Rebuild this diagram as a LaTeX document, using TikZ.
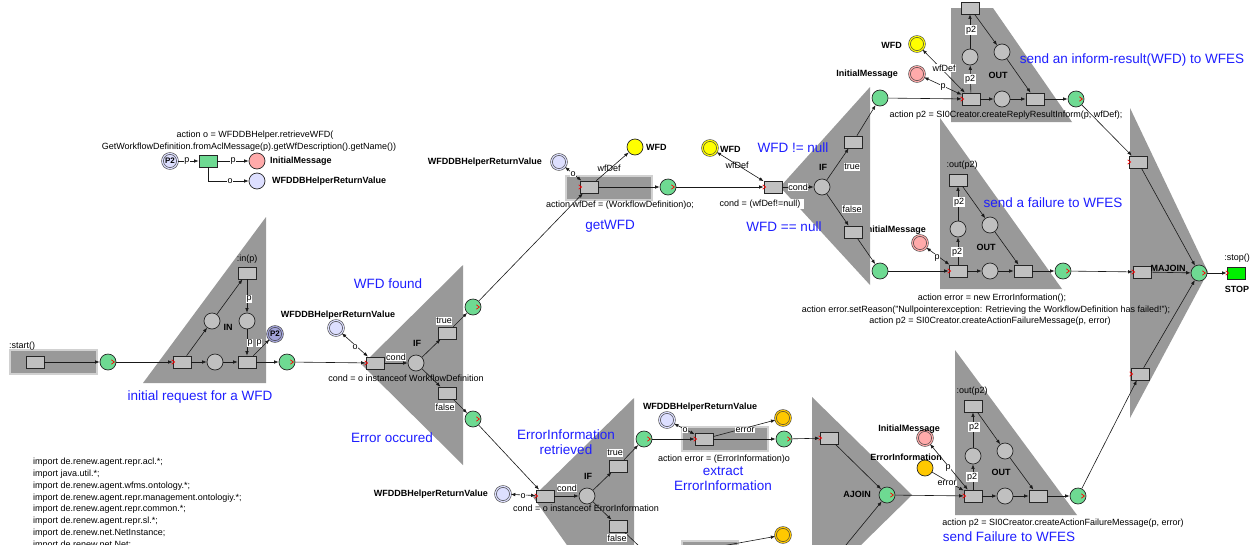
\documentclass[tikz,border=0pt]{standalone}
\usepackage{fontspec}
\setmainfont{Liberation Sans}
\usetikzlibrary{arrows.meta}
\definecolor{bggray}{RGB}{153,153,153}
\definecolor{tgray}{RGB}{192,192,192}
\definecolor{pgreen}{RGB}{110,218,146}
\definecolor{lav}{RGB}{221,223,255}
\definecolor{pinkp}{RGB}{255,170,170}
\definecolor{goldp}{RGB}{255,200,0}
\definecolor{yelp}{RGB}{255,255,0}
\definecolor{lblue}{RGB}{30,30,255}
\definecolor{stopg}{RGB}{0,240,0}
\newcommand\fsm{\fontsize{9}{10.5}\selectfont}
\newcommand\fbd{\fontsize{9}{10.5}\selectfont\bfseries}
\newcommand\fbl{\fontsize{13.5}{16}\selectfont}
\newcommand\rmk[1]{\draw[red,line width=0.7pt] ([shift={(-1,-2.2)}]#1.west) -- ++(3,2.2) -- ++(-3,2.2);}
\newcommand\rmkg[1]{\draw[red,line width=0.7pt] ([shift={(-5,-2.2)}]#1.east) -- ++(3,2.2) -- ++(-3,2.2);}
\begin{document}
\begin{tikzpicture}[x=1pt,y=-1pt,
  bgshape/.style={fill=bggray,draw=none},
  bgbox/.style={fill=bggray,draw=black!18,line width=1.2pt},
  place/.style={circle,draw=black!85,fill=tgray,minimum size=16pt,inner sep=0pt,line width=0.7pt},
  gplace/.style={place,fill=pgreen},
  vplace/.style={circle,draw=black!75,double=#1,double distance=1.2pt,line width=0.6pt,fill=#1,minimum size=15pt,inner sep=0pt},
  trans/.style={rectangle,draw=black!85,fill=tgray,minimum width=18pt,minimum height=12pt,inner sep=0pt,line width=0.7pt},
  parc/.style={draw=black!90,line width=0.6pt,-{Latex[length=4.5pt,width=3.5pt]}},
  barc/.style={draw=black!90,line width=0.6pt,{Latex[length=4.5pt,width=3.5pt]}-{Latex[length=4.5pt,width=3.5pt]}},
  wl/.style={fill=white,inner sep=0.6pt,font=\fsm},
  ntx/.style={font=\fsm,inner sep=0pt},
  bd/.style={font=\fbd,inner sep=0pt},
  bl/.style={font=\fbl,text=lblue,inner sep=0pt,align=center},
]
\useasboundingbox (0,0) rectangle (1255,544);
\clip (0,0) rectangle (1255,544);

% label hidden partly behind IF2 triangle
\node[bd,anchor=east] at (926,230) {InitialMessage};

% ---------- gray backgrounds ----------
\draw[bgbox] (10,350) rectangle (97,374);
\fill[bggray] (143,383) -- (266,217) -- (266,383) -- cycle;
\fill[bggray] (362,365) -- (463,265) -- (463,465) -- cycle;
\draw[bgbox] (566,176) rectangle (652,200);
\fill[bggray] (780,187) -- (870,87) -- (870,285) -- cycle;
\fill[bggray] (951,8) -- (993,8) -- (1072,122) -- (951,122) -- cycle;
\fill[bggray] (940,118) -- (1062,289) -- (940,289) -- cycle;
\fill[bggray] (1130,108) -- (1208,272) -- (1130,418) -- cycle;
\fill[bggray] (634,398) -- (533,497) -- (634,640) -- cycle;
\draw[bgbox] (682,427) rectangle (768,451);
\draw[bgbox] (682,541) rectangle (738,570);
\fill[bggray] (812,397) -- (912,495) -- (812,593) -- cycle;
\fill[bggray] (955,350) -- (1077,515) -- (955,515) -- cycle;

% ---------- legend ----------
\node[vplace=lav,font=\fontsize{8}{9}\selectfont\bfseries] (lp2) at (170,161) {P2};
\node[trans,fill=pgreen] (lt) at (208,161) {};
\node[place,fill=pinkp] (lim) at (257,161) {};
\node[place,fill=lav] (lwr) at (257,181) {};
\draw[parc] (lp2) -- (lt);
\draw[parc] (lt) -- (lim);
\draw[parc] (lt.south) |- (lwr);
\node[wl] at (187,161) {p};
\node[wl] at (233,161) {p};
\node[wl] at (230,181) {o};
\node[ntx] at (255,135) {action o = WFDDBHelper.retrieveWFD(};
\node[ntx] at (249,147) {GetWorkflowDefinition.fromAclMessage(p).getWfDescription().getName())};
\node[bd,anchor=west] at (270,161) {InitialMessage};
\node[bd,anchor=west] at (272,181) {WFDDBHelperReturnValue};

% ---------- start + IN ----------
\node[ntx,anchor=west] at (9,346) {:start()};
\node[trans] (st) at (35,362) {};
\node[gplace] (g0) at (108,362) {};
\node[trans] (t1) at (182,362) {};
\node[place] (pa) at (212,321) {};
\node[place] (pb) at (215,362) {};
\node[trans] (tin) at (247,273) {};
\node[place] (pc) at (247,321) {};
\node[trans] (t3) at (247,362) {};
\node[vplace=lav!80!blue!70!gray,font=\fontsize{8}{9}\selectfont\bfseries] (pP2) at (275,334) {P2};
\node[gplace] (g1) at (287,362) {};
\node[ntx] at (247,259) {:in(p)};
\node[bd] at (228,327) {IN};
\draw[parc] (st) -- (g0);
\draw[parc] (g0) -- (t1);
\draw[parc] (t1) -- (pa);
\draw[parc] (pa) -- (tin);
\draw[parc] (tin) -- (pc);
\draw[parc] (pc) -- (t3);
\draw[parc] (t1) -- (pb);
\draw[parc] (pb) -- (t3);
\draw[parc] (t3) -- (pP2);
\draw[parc] (t3) -- (g1);
\node[wl] at (249,299) {p};
\node[wl] at (250,343) {p};
\node[wl] at (259,343) {p};
\node[bl] at (200,397) {initial request for a WFD};

% ---------- IF 1 ----------
\node[trans] (tc1) at (375,363) {};
\node[vplace=lav] (lv1) at (336,328) {};
\node[bd] at (338,315) {WFDDBHelperReturnValue};
\node[place] (if1) at (416,363) {};
\node[bd] at (417,343) {IF};
\node[trans] (tt1) at (447,333) {};
\node[trans] (tf1) at (447,393) {};
\node[gplace] (gt1) at (473,307) {};
\node[gplace] (gf1) at (473,419) {};
\draw[parc] (g1) -- (tc1);
\draw[barc] (lv1) -- (tc1);
\draw[parc] (tc1) -- (if1);
\draw[parc] (if1) -- (tt1);
\draw[parc] (if1) -- (tf1);
\draw[parc] (tt1) -- (gt1);
\draw[parc] (tf1) -- (gf1);
\node[wl] at (355,347) {o};
\node[wl] at (396,357) {cond};
\node[wl] at (444,321) {true};
\node[wl] at (445,407) {false};
\node[ntx] at (406,378) {cond = o instanceof WorkflowDefinition};
\node[bl] at (388,284) {WFD found};
\node[bl] at (392,438) {Error occured};

% ---------- getWFD ----------
\node[trans] (tw) at (589,187) {};
\node[vplace=lav] (lv2) at (559,162) {};
\node[bd,anchor=east] at (542,162) {WFDDBHelperReturnValue};
\node[place,fill=yelp] (yw) at (635,147) {};
\node[bd,anchor=west] at (646,147) {WFD};
\node[gplace] (g2) at (668,187) {};
\draw[parc] (gt1) -- (tw);
\draw[barc] (lv2) -- (tw);
\draw[parc] (tw) -- (yw);
\draw[parc] (tw) -- (g2);
\node[wl] at (573,174) {o};
\node[ntx] at (609,168) {wfDef};
\node[ntx] at (620,205) {action wfDef = (WorkflowDefinition)o;};
\node[bl] at (610,226) {getWFD};

% ---------- IF 2 ----------
\node[vplace=yelp] (ywd) at (710,148) {};
\node[bd,anchor=west] at (720,149) {WFD};
\node[trans] (tc2) at (773,187) {};
\node[place] (if2) at (822,187) {};
\node[bd] at (823,167) {IF};
\node[trans] (tt2) at (853,142) {};
\node[trans] (tf2) at (853,232) {};
\node[gplace] (gt2) at (880,98) {};
\node[gplace] (gf2) at (880,271) {};
\draw[parc] (g2) -- (tc2);
\draw[barc] (ywd) -- (tc2);
\draw[parc] (tc2) -- (if2);
\draw[parc] (if2) -- (tt2);
\draw[parc] (if2) -- (tf2);
\draw[parc] (tt2) -- (gt2);
\draw[parc] (tf2) -- (gf2);
\node[ntx] at (737,165) {wfDef};
\node[wl] at (798,187) {cond};
\node[wl] at (852,167) {true};
\node[wl] at (852,209) {false};
\node[wl,inner xsep=4pt] at (760,204) {cond = (wfDef!=null)};
\node[bl] at (793,148) {WFD != null};
\node[bl] at (784,227) {WFD == null};

% ---------- OUT 1 ----------
\node[trans] (tout1) at (970,8) {};
\node[place] (po1l) at (970,57) {};
\node[place] (po1r) at (1002,52) {};
\node[trans] (t1bl) at (971,99) {};
\node[place] (po1m) at (1002,99) {};
\node[trans] (t1br) at (1035,99) {};
\node[gplace] (g3) at (1076,99) {};
\node[vplace=pinkp] (pk1) at (917,74) {};
\node[vplace=yelp] (wf1) at (917,44) {};
\node[bd,anchor=east] at (898,74) {InitialMessage};
\node[bd,anchor=east] at (902,45) {WFD};
\node[bd] at (998,75) {OUT};
\draw[parc] (gt2) -- (t1bl);
\draw[parc] (t1bl) -- (po1l);
\draw[parc] (po1l) -- (tout1);
\draw[parc] (tout1) -- (po1r);
\draw[parc] (po1r) -- (t1br);
\draw[parc] (t1bl) -- (po1m);
\draw[parc] (po1m) -- (t1br);
\draw[parc] (t1br) -- (g3);
\draw[barc] (pk1) -- (t1bl);
\draw[barc] (wf1) -- (t1bl);
\node[wl] at (971,30) {p2};
\node[wl] at (970,79) {p2};
\node[wl] at (944,68) {wfDef};
\node[wl] at (943,87) {p};
\node[ntx] at (1006,115) {action p2 = SI0Creator.createReplyResultInform(p, wfDef);};
\node[bl] at (1132,60) {send an inform-result(WFD) to WFES};

% ---------- OUT 2 ----------
\node[trans] (tout2) at (958,180) {};
\node[place] (po2l) at (958,229) {};
\node[place] (po2r) at (990,225) {};
\node[trans] (t2bl) at (958,271) {};
\node[place] (po2m) at (990,271) {};
\node[trans] (t2br) at (1023,271) {};
\node[gplace] (g4) at (1063,271) {};
\node[vplace=pinkp] (pk2) at (920,243) {};
\node[ntx] at (962,165) {:out(p2)};
\node[bd] at (986,247) {OUT};
\draw[parc] (gf2) -- (t2bl);
\draw[parc] (t2bl) -- (po2l);
\draw[parc] (po2l) -- (tout2);
\draw[parc] (tout2) -- (po2r);
\draw[parc] (po2r) -- (t2br);
\draw[parc] (t2bl) -- (po2m);
\draw[parc] (po2m) -- (t2br);
\draw[parc] (t2br) -- (g4);
\draw[barc] (pk2) -- (t2bl);
\node[wl] at (959,202) {p2};
\node[wl] at (957,252) {p2};
\node[wl] at (937,258) {p};
\node[bl] at (1053,203) {send a failure to WFES};
\node[ntx] at (992,298) {action error = new ErrorInformation();};
\node[ntx] at (986,310) {action error.setReason("Nullpointerexception: Retrieving the WorkflowDefinition has failed!");};
\node[ntx] at (990,321) {action p2 = SI0Creator.createActionFailureMessage(p, error)};

% ---------- MAJOIN ----------
\node[trans] (tm1) at (1138,162) {};
\node[trans] (tm2) at (1142,272) {};
\node[trans] (tm3) at (1140,374) {};
\node[gplace] (gm) at (1199,273) {};
\node[trans,fill=stopg] (stop) at (1236,273) {};
\node[ntx] at (1237,258) {:stop()};
\node[bd] at (1237,289) {STOP};
\draw[parc] (g3) -- (tm1);
\draw[parc] (g4) -- (tm2);
\draw[parc] (tm1) -- (gm);
\draw[parc] (tm2) -- (gm);
\draw[parc] (tm3) -- (gm);
\draw[parc] (gm) -- (stop);
\node[bd] at (1168,268) {MAJOIN};

% ---------- IF 3 ----------
\node[trans] (tc3) at (545,496) {};
\node[vplace=lav] (lv3) at (503,494) {};
\node[bd,anchor=east] at (488,494) {WFDDBHelperReturnValue};
\node[place] (if3) at (587,496) {};
\node[bd] at (588,476) {IF};
\node[trans] (tt3) at (618,466) {};
\node[trans] (tf3) at (618,526) {};
\node[gplace] (gt3) at (644,439) {};
\coordinate (offB) at (662,568);
\draw[parc] (gf1) -- (tc3);
\draw[barc] (lv3) -- (tc3);
\draw[parc] (tc3) -- (if3);
\draw[parc] (if3) -- (tt3);
\draw[parc] (if3) -- (tf3);
\draw[parc] (tt3) -- (gt3);
\draw[parc] (tf3) -- (offB);
\node[wl] at (523,496) {o};
\node[wl] at (567,488) {cond};
\node[wl] at (615,453) {true};
\node[wl] at (617,538) {false};
\node[ntx] at (586,508) {cond = o instanceof ErrorInformation};
\node[bl] at (566,442) {ErrorInformation\\[-1pt]retrieved};

% ---------- extract ----------
\node[trans] (tx) at (704,439) {};
\node[vplace=lav] (lv4) at (667,420) {};
\node[bd] at (700,407) {WFDDBHelperReturnValue};
\node[vplace=goldp] (ox) at (783,418) {};
\node[gplace] (g5) at (784,439) {};
\node[vplace=goldp] (ox2) at (783,535) {};
\coordinate (offC) at (722,546);
\draw[parc] (gt3) -- (tx);
\draw[barc] (lv4) -- (tx);
\draw[parc] (tx) -- (ox);
\draw[parc] (tx) -- (g5);
\draw[parc] (offC) -- (ox2);
\node[wl] at (685,430) {o};
\node[wl] at (745,430) {error};
\node[ntx] at (724,459) {action error = (ErrorInformation)o};
\node[bl] at (723,479) {extract\\[-1pt]ErrorInformation};

% ---------- AJOIN ----------
\node[trans] (ta) at (829,438) {};
\node[gplace] (ga) at (887,495) {};
\node[bd] at (857,494) {AJOIN};
\coordinate (offA) at (832,562);
\draw[parc] (g5) -- (ta);
\draw[parc] (ta) -- (ga);
\draw[parc] (offA) -- (ga);

% ---------- OUT 3 ----------
\node[trans] (tout3) at (973,406) {};
\node[place] (po3l) at (973,456) {};
\node[place] (po3r) at (1005,451) {};
\node[trans] (t3bl) at (973,496) {};
\node[place] (po3m) at (1005,496) {};
\node[trans] (t3br) at (1038,496) {};
\node[gplace] (g6) at (1078,496) {};
\node[vplace=pinkp] (pk3) at (925,438) {};
\node[place,fill=goldp] (ei) at (925,468) {};
\node[bd] at (909,429) {InitialMessage};
\node[bd] at (906,457) {ErrorInformation};
\node[ntx] at (972,391) {:out(p2)};
\node[bd] at (1001,472) {OUT};
\draw[parc] (ga) -- (t3bl);
\draw[parc] (t3bl) -- (po3l);
\draw[parc] (po3l) -- (tout3);
\draw[parc] (tout3) -- (po3r);
\draw[parc] (po3r) -- (t3br);
\draw[parc] (t3bl) -- (po3m);
\draw[parc] (po3m) -- (t3br);
\draw[parc] (t3br) -- (g6);
\draw[barc] (pk3) -- (t3bl);
\draw[parc] (ei) -- (t3bl);
\draw[parc] (g6) -- (tm3);
\node[wl] at (974,427) {p2};
\node[wl] at (972,477) {p2};
\node[wl] at (948,468) {p};
\node[wl] at (947,483) {error};
\node[ntx] at (1063,523) {action p2 = SI0Creator.createActionFailureMessage(p, error)};
\node[bl] at (1009,537) {send Failure to WFES};

% ---------- red markers ----------
\rmk{t1}\rmk{tc1}\rmk{tw}\rmk{tc2}\rmk{t1bl}\rmk{t2bl}\rmk{tm1}\rmk{tm2}\rmk{tm3}\rmk{stop}
\rmk{tc3}\rmk{tx}\rmk{ta}\rmk{t3bl}
\rmkg{g0}\rmkg{g1}\rmkg{gt1}\rmkg{gf1}\rmkg{g2}\rmkg{g3}\rmkg{g4}\rmkg{gm}
\rmkg{gt3}\rmkg{g5}\rmkg{ga}\rmkg{g6}

% ---------- imports ----------
\node[font=\fontsize{9}{11.8}\selectfont,align=left,anchor=north west,inner sep=0pt] (imp) at (33,458) {import de.renew.agent.repr.acl.*;\\
import java.util.*;\\
import de.renew.agent.wfms.ontology.*;\\
import de.renew.agent.repr.management.ontologiy.*;\\
import de.renew.agent.repr.common.*;\\
import de.renew.agent.repr.sl.*;\\
import de.renew.net.NetInstance;\\
import de.renew.net.Net;};
\end{tikzpicture}
\end{document}
